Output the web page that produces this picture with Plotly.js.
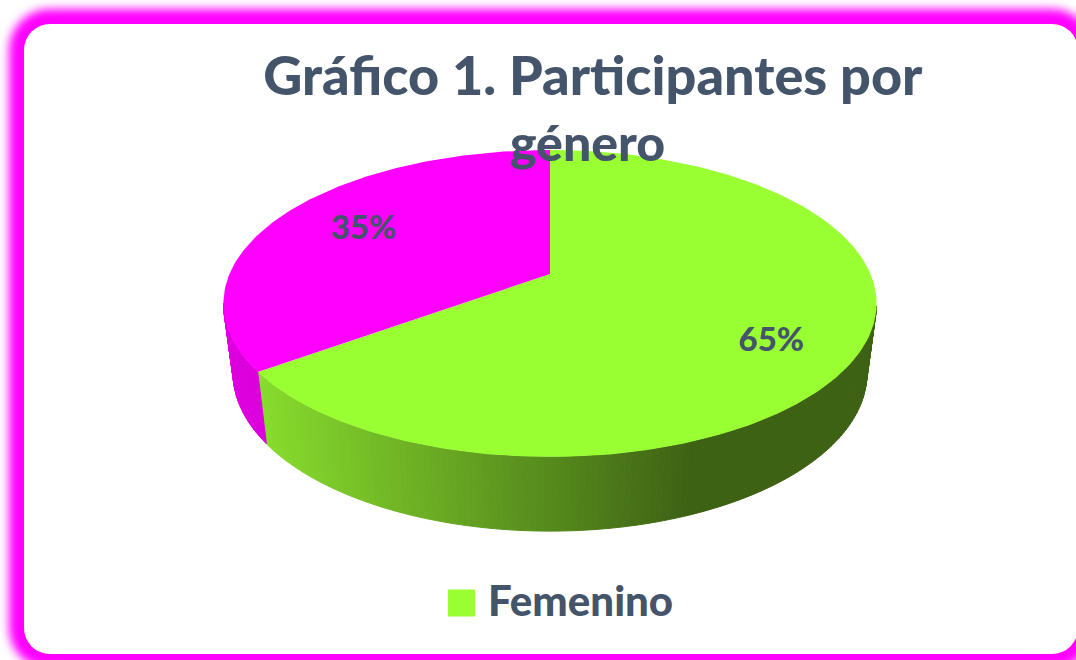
<!DOCTYPE html>
<html>
<head>
<meta charset="utf-8">
<script src="https://cdn.plot.ly/plotly-3.0.1.min.js"></script>
<style>
  html, body { margin: 0; padding: 0; background: #fff; overflow: hidden; }
  #frame {
    position: absolute; left: 24px; top: 24px; width: 1054px; height: 630px;
    border-radius: 26px; background: #fff; box-shadow: 0 0 10px 15px #ff00ff;
  }
  #chart { position: absolute; left: 0; top: 0; width: 1076px; height: 660px; }
</style>
</head>
<body>
<div id="frame"></div>
<div id="chart"></div>
<script>
// values
let categories = ["Femenino", "Masculino"];
let percents = [65, 35];
let legendItems = ["Femenino"];
let titleLines = ["Gráfico 1. Participantes por", "género"];

let topColors = ["#99ff33", "#ff00ff"];
let titleColor = "#44546a";
let fontName = "Lato, 'Open Sans', sans-serif";

// perspective of the tilted disc, in page pixels
let cx = 550;
let k = 0.192;
let topRim = { a: 320.5, b: 147.8, h: 274 };
let lowRim = { a: 311, b: 152, h: 343 };
let labelShift = [[2, 17], [7, 2]];

function project(rim, deg, r) {
  let th = (deg * Math.PI) / 180;
  let X = r * Math.sin(th);
  let Z = r * Math.cos(th);
  let d = 1 + k * Z;
  return [cx + (rim.a * X) / d, rim.h - (rim.b * Z) / d];
}

function sideColor(slice, x) {
  if (slice == 1) {
    return "rgb(221,0,221)";
  }
  let t = Math.min(1, Math.max(0, (x - 259) / (690 - 259)));
  let r = Math.round(135 + (62 - 135) * t);
  let g = Math.round(220 + (98 - 220) * t);
  let b = Math.round(45 + (20 - 45) * t);
  return `rgb(${r},${g},${b})`;
}

let total = percents.reduce((a, b) => a + b, 0);
let sideTraces = [];
let topTraces = [];
let labelX = [];
let labelY = [];
let labelText = [];

let start = 0;
percents.forEach((p, i) => {
  let end = start + (p / total) * 360;

  // side wall, one thin piece per degree, only the part facing us
  for (let a = start; a < end; a += 1) {
    if (Math.cos((a * Math.PI) / 180) > -0.2) continue;
    let b = Math.min(a + 1, end);
    let p1 = project(topRim, a, 1);
    let p2 = project(topRim, b, 1);
    let p3 = project(lowRim, b, 1);
    let p4 = project(lowRim, a, 1);
    let col = sideColor(i, (p1[0] + p2[0]) / 2);
    sideTraces.push({
      x: [p1[0], p2[0], p3[0], p4[0], p1[0]],
      y: [p1[1], p2[1], p3[1], p4[1], p1[1]],
      mode: "lines",
      fill: "toself",
      fillcolor: col,
      line: { color: col, width: 1 },
      hoverinfo: "skip",
      showlegend: false,
    });
  }

  // top face
  let xs = [cx];
  let ys = [topRim.h];
  for (let a = start; a <= end + 0.001; a += 1) {
    let q = project(topRim, Math.min(a, end), 1);
    xs.push(q[0]);
    ys.push(q[1]);
  }
  let last = project(topRim, end, 1);
  xs.push(last[0], cx);
  ys.push(last[1], topRim.h);
  topTraces.push({
    x: xs,
    y: ys,
    name: categories[i],
    mode: "lines",
    fill: "toself",
    fillcolor: topColors[i],
    line: { color: topColors[i], width: 0 },
    hoverinfo: "name",
    showlegend: false,
  });

  let lp = project(topRim, (start + end) / 2, 0.72);
  labelX.push(lp[0] + labelShift[i][0]);
  labelY.push(lp[1] + labelShift[i][1]);
  labelText.push(p + "%");

  start = end;
});

let labelTrace = {
  x: labelX,
  y: labelY,
  text: labelText,
  mode: "text",
  textposition: "middle center",
  textfont: { family: fontName, size: 33, color: titleColor, weight: 900 },
  hoverinfo: "skip",
  showlegend: false,
};

let legendSwatch = {
  x: [461.5],
  y: [603],
  mode: "markers",
  marker: { symbol: "square", size: 27, color: topColors[0] },
  hoverinfo: "skip",
  showlegend: false,
};

let legendLabel = {
  x: [488],
  y: [605],
  text: legendItems,
  mode: "text",
  textposition: "middle right",
  textfont: { family: fontName, size: 42, color: titleColor, weight: 900 },
  hoverinfo: "skip",
  showlegend: false,
};

let layout = {
  width: 1076,
  height: 660,
  margin: { l: 0, r: 0, t: 0, b: 0 },
  paper_bgcolor: "rgba(0,0,0,0)",
  plot_bgcolor: "rgba(0,0,0,0)",
  showlegend: false,
  title: {
    text: titleLines[0],
    font: { family: fontName, size: 54, color: titleColor, weight: 900 },
    x: 0.551,
    xanchor: "center",
    y: 0.914,
    yanchor: "top",
  },
  annotations: [
    {
      text: titleLines[1],
      x: 587,
      y: 142,
      xanchor: "center",
      yanchor: "middle",
      showarrow: false,
      font: { family: fontName, size: 50, color: titleColor, weight: 900 },
    },
  ],
  xaxis: { range: [0, 1076], visible: false, fixedrange: true },
  yaxis: { range: [660, 0], visible: false, fixedrange: true },
};

Plotly.newPlot("chart", sideTraces.concat(topTraces, [labelTrace, legendSwatch, legendLabel]), layout, {
  displayModeBar: false,
});
</script>
</body>
</html>
